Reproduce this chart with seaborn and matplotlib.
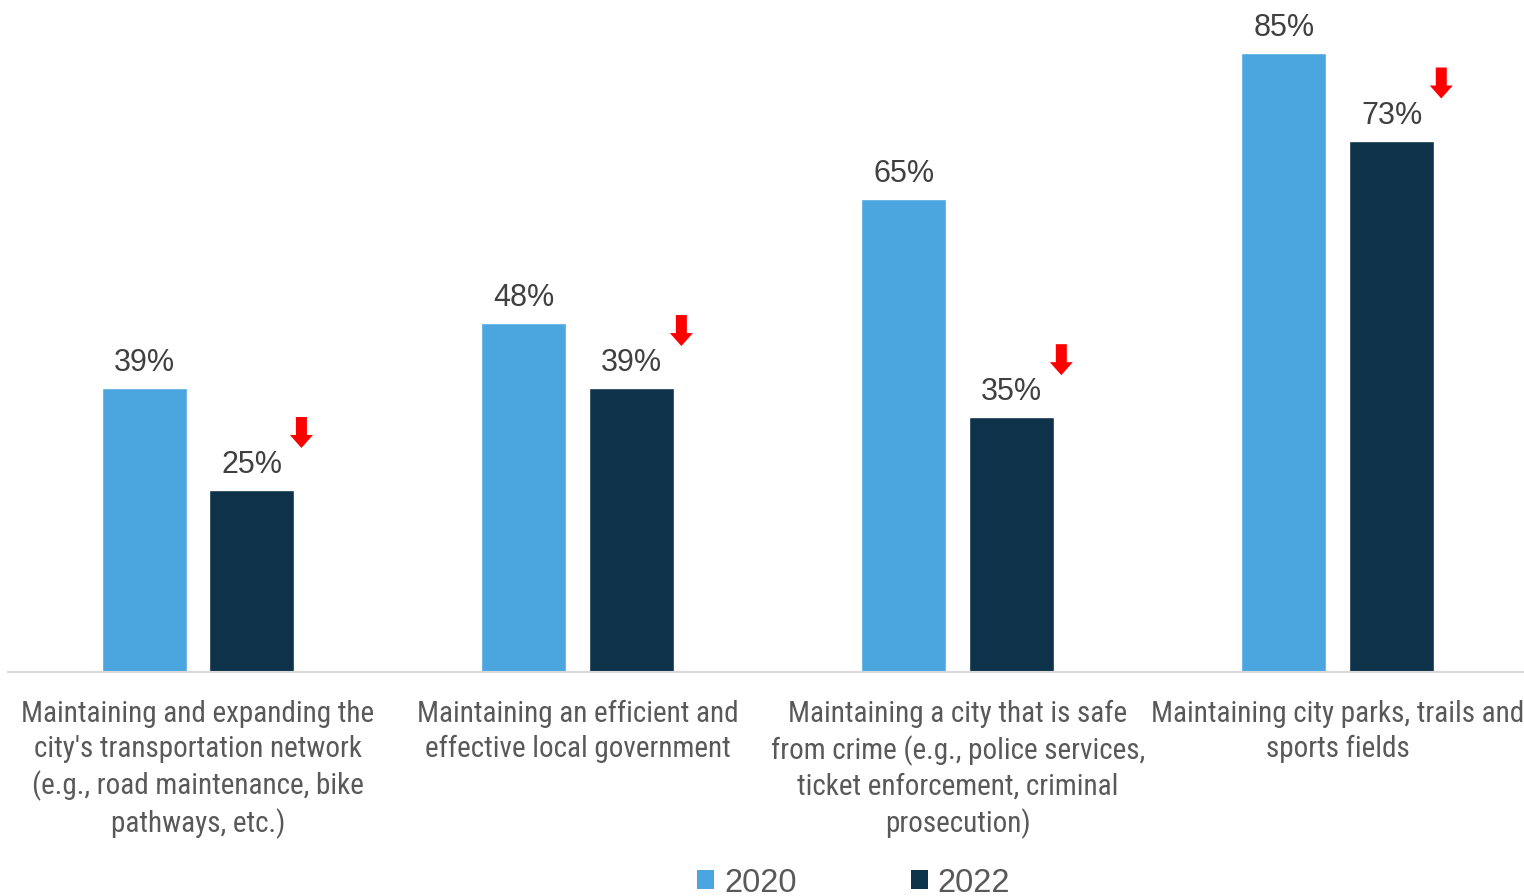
import matplotlib
matplotlib.use("Agg")
import matplotlib.pyplot as plt
import matplotlib.transforms as mtransforms
from matplotlib.patches import Patch
import seaborn as sns
import pandas as pd

categories = [
    "Maintaining and expanding the\ncity's transportation network\n(e.g., road maintenance, bike\npathways, etc.)",
    "Maintaining an efficient and\neffective local government",
    "Maintaining a city that is safe\nfrom crime (e.g., police services,\nticket enforcement, criminal\nprosecution)",
    "Maintaining city parks, trails and\nsports fields",
]
years = ["2020", "2022"]
values_2020 = [39, 48, 65, 85]
values_2022 = [25, 39, 35, 73]

colors = {"2020": "#4BA6E0", "2022": "#0D3249"}

df = pd.DataFrame({
    "category": categories * 2,
    "year": [years[0]] * 4 + [years[1]] * 4,
    "value": values_2020 + values_2022,
})

sns.set_theme(style="white")
plt.rcParams["font.family"] = ["Liberation Sans", "DejaVu Sans"]

fig = plt.figure(figsize=(15.24, 8.96), dpi=100)
ax = fig.add_axes([8 / 1524, 0.25, 1516 / 1524, 0.75])

sns.barplot(data=df, x="category", y="value", hue="year", order=categories,
            hue_order=years, palette=colors, width=0.568, gap=0.2125,
            saturation=1, ax=ax, legend=False)

ax.set_xlim(-0.5, 3.49)
ax.set_ylim(0, 92.3)
ax.set_xlabel("")
ax.set_ylabel("")
ax.set_yticks([])
for s in ["top", "right", "left"]:
    ax.spines[s].set_visible(False)
ax.spines["bottom"].set_color("#D9D9D9")
ax.spines["bottom"].set_linewidth(1.5)
ax.tick_params(axis="x", length=0, pad=20)
for lbl in ax.get_xticklabels():
    lbl.set_family(["Roboto Condensed", "Archivo Narrow", "Liberation Sans", "DejaVu Sans"])
    lbl.set_fontsize(21)
    lbl.set_color("#595959")
    lbl.set_linespacing(1.31)

# value labels above each bar
for container in ax.containers:
    ax.bar_label(container, labels=[f"{v:.0f}%" for v in container.datavalues],
                 padding=7, fontsize=22, color="#404040")

# red down-arrows marking the decline in 2022
dec_container = ax.containers[1]
for bar in dec_container:
    x_right = bar.get_x() + bar.get_width()
    top = bar.get_height()
    head = ax.transData + mtransforms.ScaledTranslation(7 / 100, 42 / 100, fig.dpi_scale_trans)
    tail = ax.transData + mtransforms.ScaledTranslation(7 / 100, 73 / 100, fig.dpi_scale_trans)
    ax.annotate("", xy=(x_right, top), xycoords=head,
                xytext=(x_right, top), textcoords=tail,
                arrowprops=dict(arrowstyle="simple,head_length=0.65,head_width=1.15,tail_width=0.55",
                                fc="#FF0000", ec="none", mutation_scale=14.4,
                                shrinkA=0, shrinkB=0))

handles = [Patch(facecolor=colors[y], edgecolor="none", label=y) for y in years]
fig.legend(handles=handles, loc="center", bbox_to_anchor=(853.5 / 1524, 13 / 896), ncol=2,
           frameon=False, fontsize=23.5, labelcolor="#595959",
           handlelength=0.52, handleheight=0.52, handletextpad=0.3,
           columnspacing=3.5, borderaxespad=0, borderpad=0)

fig.savefig("out.png", dpi=100)
